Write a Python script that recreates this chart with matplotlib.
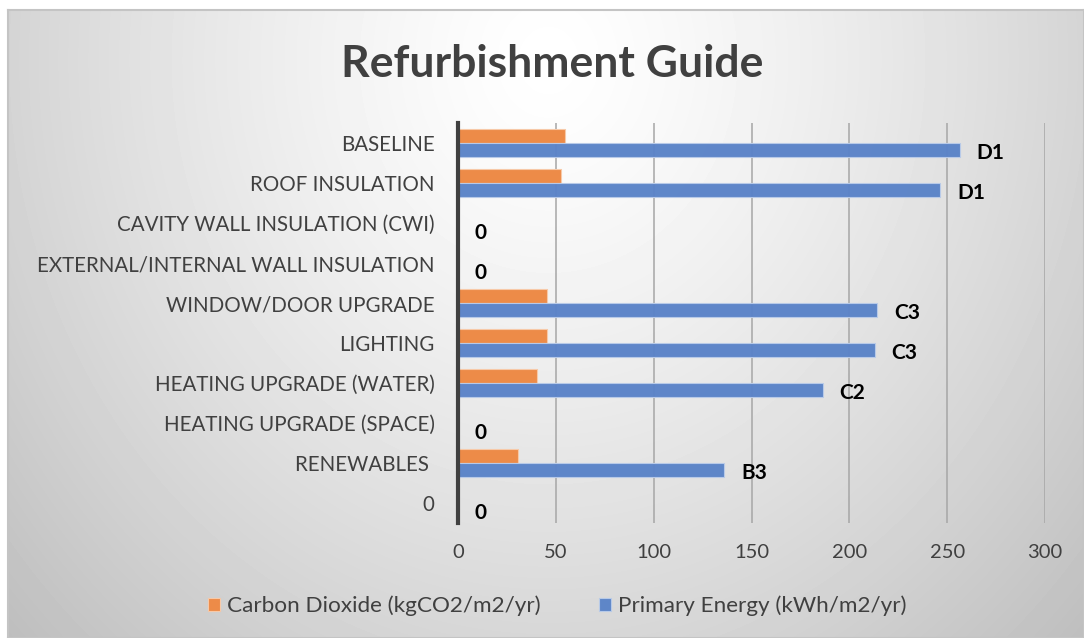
import numpy as np
import matplotlib.pyplot as plt

# categories top to bottom, as in the chart
categories = ['BASELINE', 'ROOF INSULATION', 'CAVITY WALL INSULATION (CWI)',
              'EXTERNAL/INTERNAL WALL INSULATION', 'WINDOW/DOOR UPGRADE',
              'LIGHTING', 'HEATING UPGRADE (WATER)', 'HEATING UPGRADE (SPACE)',
              'RENEWABLES ', '0']
co2 = [54.7, 52.5, 0, 0, 45.3, 45.3, 40.5, 0, 30.8, 0]
energy = [256.5, 246.5, 0, 0, 214.3, 213.0, 186.3, 0, 136.2, 0]
rating = ['D1', 'D1', '0', '0', 'C3', 'C3', 'C2', '0', 'B3', '0']
xticks = [0, 50, 100, 150, 200, 250, 300]

plt.rcParams['font.family'] = ['Lato', 'DejaVu Sans']

W, H = 1084, 638
fig = plt.figure(figsize=(W / 100, H / 100), dpi=100)

# radial grey background
bg = fig.add_axes([8 / W, 0, 1 - 8 / W, (H - 10) / H], zorder=-5)
yy, xx = np.mgrid[0:H - 10, 0:W - 8]
r = np.sqrt(((xx - 540) / 640.0) ** 2 + ((yy - 50) / 720.0) ** 2)
v = 1 - 0.21 * np.clip(r, 0, 1.3) ** 1.3
bg.imshow(v, cmap='gray', vmin=0, vmax=1, aspect='auto', interpolation='bilinear')
bg.set_xticks([])
bg.set_yticks([])
for s in bg.spines.values():
    s.set_color('#c4c4c4')
    s.set_linewidth(1.5)

ax = fig.add_axes([458 / W, 115 / H, 587 / W, 400 / H])
ax.set_facecolor('none')

y = np.arange(len(categories))
h = 0.36
ax.barh(y - h / 2, co2, height=h, color='#ED8B48', edgecolor='#f7c9a8', linewidth=0.8,
        label='Carbon Dioxide (kgCO2/m2/yr)', zorder=3)
ax.barh(y + h / 2, energy, height=h, color='#5A83C8', edgecolor='#b9cbe9', linewidth=0.8,
        label='Primary Energy (kWh/m2/yr)', zorder=3, alpha=0.97)

for val, yi, lab in zip(energy, y, rating):
    ax.annotate(lab, (val, yi + h / 2 + 0.08), xytext=(12, 0), textcoords='offset points',
                ha='left', va='center', fontsize=15, fontweight='bold', color='black')

ax.set_ylim(len(categories) - 0.5, -0.5)
ax.set_xlim(0, 300)
ax.set_xticks(xticks)
ax.set_yticks(y)
ax.set_yticklabels(categories)
ax.tick_params(axis='y', length=0, pad=17, labelsize=14.8, labelcolor='#404040')
ax.tick_params(axis='x', length=0, pad=15, labelsize=14.5, labelcolor='#404040')
ax.grid(axis='x', color='#a6a6a6', linewidth=1.1, zorder=0)
for s in ['top', 'right', 'bottom']:
    ax.spines[s].set_visible(False)
ax.spines['left'].set_color('#404040')
ax.spines['left'].set_linewidth(3)
ax.spines['left'].set_zorder(4)

fig.text(0.509, 0.9, 'Refurbishment Guide', ha='center', va='center',
         fontsize=32, fontweight='bold', color='#404040')

fig.legend(loc='center', bbox_to_anchor=(557 / W, 1 - 606 / H), ncol=2, frameon=False,
           fontsize=16.2, labelcolor='#404040', handlelength=0.55, handleheight=0.55,
           columnspacing=2.6, handletextpad=0.3)

fig.savefig('out.png', dpi=100)
